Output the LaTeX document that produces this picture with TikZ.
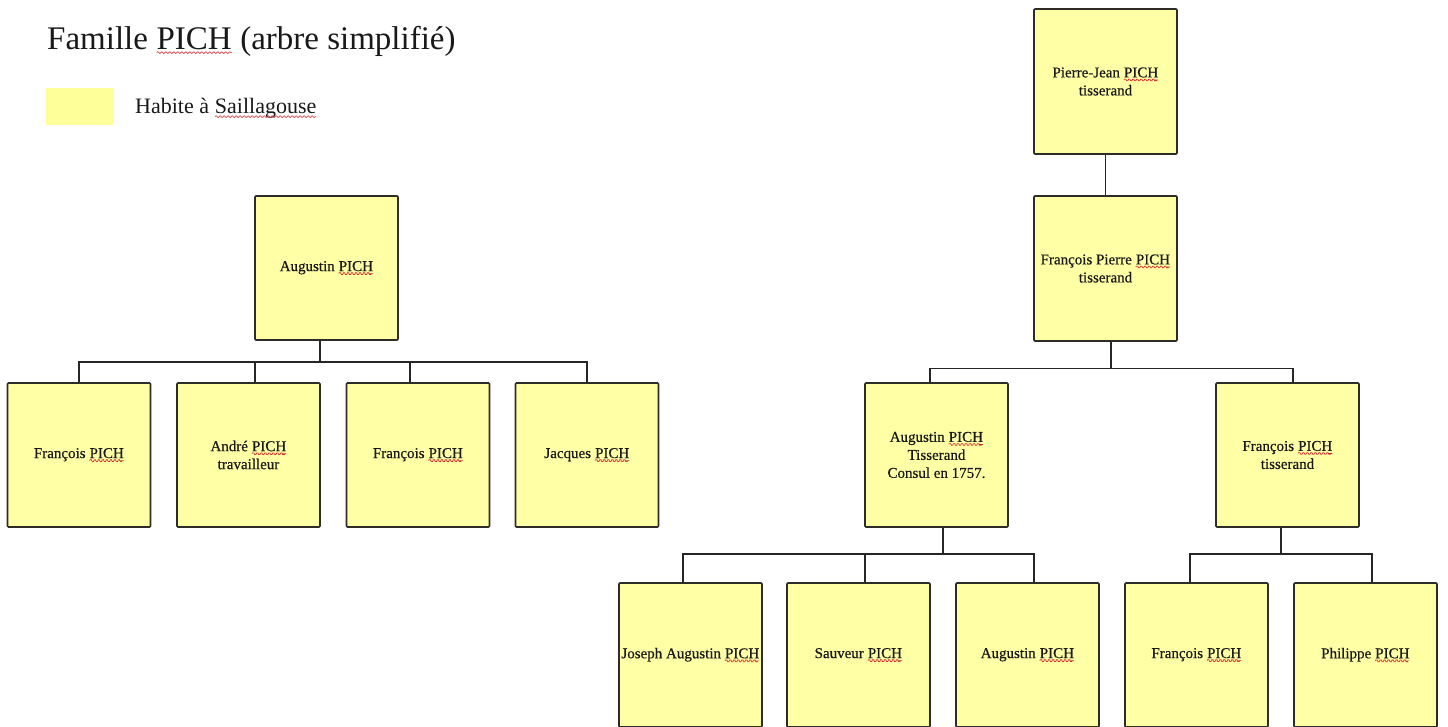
\documentclass[tikz,border=0pt]{standalone}
\usepackage{fontspec}
\setmainfont{Liberation Serif}
\newfontfamily\boxfont{Liberation Serif}[FakeBold=0.5]
\usetikzlibrary{calc,decorations.pathmorphing}
\definecolor{boxfill}{RGB}{255,255,166}
\definecolor{legfill}{RGB}{255,255,153}
\definecolor{boxline}{RGB}{45,45,40}
\definecolor{wavered}{RGB}{215,40,40}
\newcommand\sqw[1]{\tikz[baseline=(w.base)]{\node[inner sep=0pt,outer sep=0pt,minimum width=0pt,minimum height=0pt,draw=none,fill=none,anchor=base](w){#1};\draw[wavered,line width=0.6pt,decorate,decoration={snake,amplitude=0.9pt,segment length=4pt}] ([yshift=-2.6pt]w.base west)--([yshift=-2.6pt]w.base east);}}
\tikzset{
  pbox/.style={draw=boxline, fill=boxfill, line width=1.7pt, rounded corners=1pt,
    minimum width=143pt, minimum height=144pt, inner sep=0pt, align=center,
    font=\boxfont\fontsize{15}{18}\selectfont, text=black!90},
  conn/.style={line width=1.5pt, draw=black!85},
}
\begin{document}
\begin{tikzpicture}[x=1pt,y=-1pt]
\useasboundingbox (0,0) rectangle (1448,727);
\clip (0,0) rectangle (1448,727);
% title and legend
\node[anchor=base west, inner sep=0pt, font=\fontsize{33}{40}\selectfont, text=black!90] (title) at (47,50) {Famille \sqw{PICH} (arbre simplifié)};
\node[fill=legfill, minimum width=67pt, minimum height=37pt, inner sep=0pt] (leg) at (79,106.5) {};
\node[anchor=base west, inner sep=0pt, font=\fontsize{22}{26}\selectfont, text=black!90] (legt) at (135,114) {Habite à \sqw{Saillagouse}};
% left tree
\node[pbox] (a0) at (326.5,268) {Augustin \sqw{PICH}};
\node[pbox] (c1) at (79,455) {François \sqw{PICH}};
\node[pbox] (c2) at (248.5,455) {André \sqw{PICH}\\travailleur};
\node[pbox] (c3) at (418,455) {François \sqw{PICH}};
\node[pbox] (c4) at (587,455) {Jacques \sqw{PICH}};
\coordinate (lb) at (320,362);
\draw[conn] ([xshift=-6.5pt]a0.south) -- (lb);
\draw[conn] (c1.north) |- (lb) -| (c4.north);
\draw[conn] ([xshift=6.5pt]c2.north) -- ([xshift=6.5pt]c2.north |- lb);
\draw[conn] ([xshift=-8pt]c3.north) -- ([xshift=-8pt]c3.north |- lb);
% right tree
\node[pbox, minimum height=145pt] (pj) at (1105.5,81.5) {Pierre-Jean \sqw{PICH}\\tisserand};
\node[pbox, minimum height=145pt] (fp) at (1105.5,268.5) {François Pierre \sqw{PICH}\\tisserand};
\node[pbox] (at) at (936.5,455) {Augustin \sqw{PICH}\\Tisserand\\Consul en 1757.};
\node[pbox] (ft) at (1287.5,455) {François \sqw{PICH}\\tisserand};
\node[pbox] (j1) at (690.5,655) {Joseph Augustin \sqw{PICH}};
\node[pbox] (j2) at (858.5,655) {Sauveur \sqw{PICH}};
\node[pbox] (j3) at (1027.5,655) {Augustin \sqw{PICH}};
\node[pbox] (f1) at (1196.5,655) {François \sqw{PICH}};
\node[pbox] (f2) at (1365.5,655) {Philippe \sqw{PICH}};
\draw[conn] (pj.south) -- (fp.north);
\coordinate (rb) at (1111,368.5);
\draw[conn] ([xshift=5.5pt]fp.south) -- (rb);
\draw[conn] ([xshift=-6.5pt]at.north) |- (rb) -| ([xshift=5.5pt]ft.north);
\coordinate (bl) at (943,554);
\draw[conn] ([xshift=6.5pt]at.south) -- (bl);
\draw[conn] ([xshift=-7.5pt]j1.north) |- (bl) -| ([xshift=6.5pt]j3.north);
\draw[conn] ([xshift=6.5pt]j2.north) -- ([xshift=6.5pt]j2.north |- bl);
\coordinate (br) at (1281,554);
\draw[conn] ([xshift=-6.5pt]ft.south) -- (br);
\draw[conn] ([xshift=-6.5pt]f1.north) |- (br) -| ([xshift=6.5pt]f2.north);
\end{tikzpicture}
\end{document}
